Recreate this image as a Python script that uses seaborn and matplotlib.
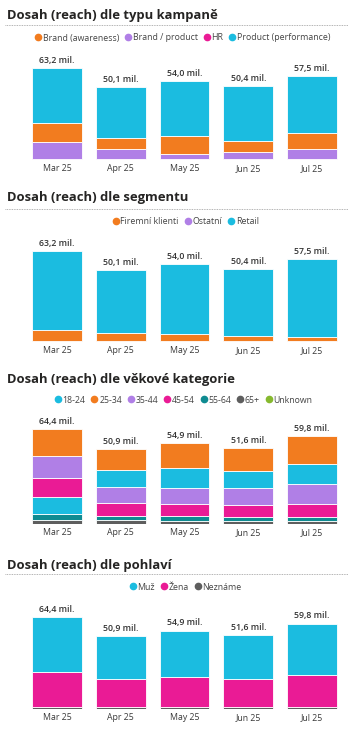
import matplotlib
matplotlib.use('Agg')
import matplotlib.pyplot as plt
from matplotlib.lines import Line2D
import seaborn as sns
import numpy as np

sns.set_style('white')
plt.rcParams['font.family'] = ['Open Sans', 'DejaVu Sans']

# --- data ---
months = ['Mar 25', 'Apr 25', 'May 25', 'Jun 25', 'Jul 25']

# typ kampaně
camp_names = ['Brand (awareness)', 'Brand / product', 'HR', 'Product (performance)']
brand_awareness = [13.2, 7.3, 12.3, 7.5, 10.7]
brand_product = [11.4, 7.0, 3.6, 4.8, 6.8]
hr = [0.6, 0.5, 0.6, 0.6, 1.0]
product_perf = [38.0, 35.3, 37.5, 37.5, 39.0]

# segment
seg_names = ['Firemní klienti', 'Ostatní', 'Retail']
firemni = [8.1, 6.0, 5.5, 3.5, 3.0]
ostatni = [0.4, 0.4, 0.4, 0.4, 0.4]
retail = [54.7, 43.7, 48.1, 46.5, 54.1]

# věková kategorie
age_names = ['18-24', '25-34', '35-44', '45-54', '55-64', '65+', 'Unknown']
age_18_24 = [12.0, 11.3, 13.6, 11.8, 14.0]
age_25_34 = [18.3, 14.5, 17.0, 15.6, 19.0]
age_35_44 = [15.1, 10.8, 10.8, 11.3, 13.1]
age_45_54 = [12.4, 8.6, 8.4, 7.9, 9.0]
age_55_64 = [3.8, 3.2, 3.2, 2.9, 2.7]
age_65 = [2.5, 2.3, 1.8, 2.0, 1.8]
age_unknown = [0.3, 0.2, 0.1, 0.1, 0.2]

# pohlaví
gender_names = ['Muž', 'Žena', 'Neznáme']
muz = [38.5, 29.9, 32.4, 30.4, 35.7]
zena = [24.3, 19.7, 21.3, 19.9, 22.7]
nezname = [1.6, 1.3, 1.2, 1.3, 1.4]

CYAN = '#1BBCE0'
ORANGE = '#F27C1F'
PURPLE = '#B07FE6'
PINK = '#EA1B95'
TEAL = '#0F8B91'
GRAY = '#5E5E5E'
GREEN = '#86B92E'

panels = [
    dict(title='Dosah (reach) dle typu kampaně', names=camp_names,
         series=[brand_awareness, brand_product, hr, product_perf],
         colors=[ORANGE, PURPLE, PINK, CYAN],
         title_y=15, line_y=25, leg_y=38, bottom=160, top=67.7, leg_x=182),
    dict(title='Dosah (reach) dle segmentu', names=seg_names,
         series=[firemni, ostatni, retail],
         colors=[ORANGE, PURPLE, CYAN],
         title_y=197, line_y=209, leg_y=222, bottom=342, top=251, leg_x=185),
    dict(title='Dosah (reach) dle věkové kategorie', names=age_names,
         series=[age_18_24, age_25_34, age_35_44, age_45_54, age_55_64, age_65, age_unknown],
         colors=[CYAN, ORANGE, PURPLE, PINK, TEAL, GRAY, GREEN],
         title_y=379, line_y=None, leg_y=400, bottom=524, top=429, leg_x=183),
    dict(title='Dosah (reach) dle pohlaví', names=gender_names,
         series=[muz, zena, nezname],
         colors=[CYAN, PINK, GRAY],
         title_y=565, line_y=574, leg_y=587, bottom=709, top=617, leg_x=185),
]

W, H = 357, 735
fig = plt.figure(figsize=(W / 100, H / 100), dpi=100)
fig.patch.set_facecolor('white')

for p in panels:
    vals = np.array(p['series'], dtype=float)
    totals = vals.sum(axis=0)
    ax_top = p['top'] - 14
    ax = fig.add_axes([25 / W, 1 - p['bottom'] / H, 319 / W, (p['bottom'] - ax_top) / H])
    ymax = totals.max() * (p['bottom'] - ax_top) / (p['bottom'] - p['top'])

    # stack each bar with the smallest segment at the bottom
    bottoms = np.zeros(len(months))
    order = np.argsort(vals, axis=0)
    x = np.arange(len(months))
    for rank in range(vals.shape[0]):
        idx = order[rank]
        heights = vals[idx, x]
        cols = [p['colors'][i] for i in idx]
        ax.bar(x, heights, bottom=bottoms, width=0.78, color=cols,
               edgecolor='white', linewidth=0.6)
        bottoms += heights

    for xi, t in zip(x, totals):
        ax.text(xi, t + ymax * 0.03, f'{t:.1f}'.replace('.', ',') + ' mil.',
                ha='center', va='bottom', fontsize=6.3, color='#333333', fontweight='semibold')

    ax.set_xlim(-0.5, len(months) - 0.5)
    ax.set_ylim(0, ymax)
    ax.set_xticks(x)
    ax.set_xticklabels(months, fontsize=6.3, color='#3a3a3a')
    ax.tick_params(axis='x', length=0, pad=3)
    ax.set_yticks([])
    sns.despine(ax=ax, left=True, bottom=True)
    ax.set_facecolor('none')

    fig.text(7 / W, 1 - p['title_y'] / H, p['title'], fontsize=9.4, fontweight='bold',
             color='#252423', ha='left', va='center')
    if p['line_y'] is not None:
        fig.add_artist(Line2D([5 / W, 348 / W], [1 - p['line_y'] / H] * 2,
                              color='#9a9a9a', linestyle=(0, (1, 1)), linewidth=0.6))

    handles = [Line2D([], [], marker='o', linestyle='', markersize=4.5, color=c) for c in p['colors']]
    fig.legend(handles, p['names'], loc='center', ncol=len(handles),
               bbox_to_anchor=(p['leg_x'] / W, 1 - p['leg_y'] / H), frameon=False,
               fontsize=6.3, labelcolor='#444444', handletextpad=0.05, columnspacing=0.5,
               handlelength=1.0, borderpad=0)

fig.savefig('out.png', dpi=100, facecolor='white')
